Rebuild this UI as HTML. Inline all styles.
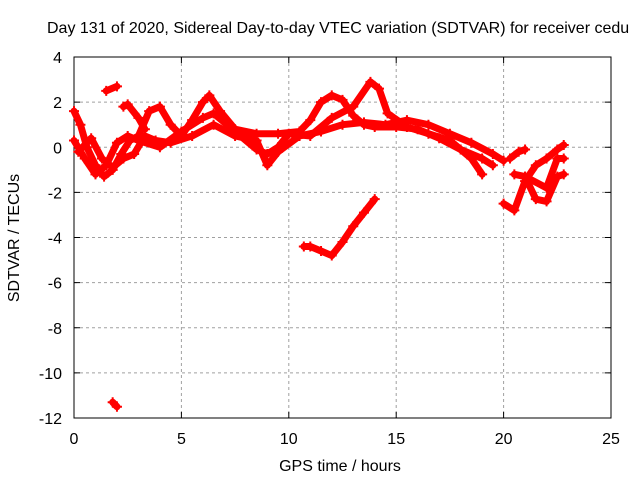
<!DOCTYPE html>
<html><head><meta charset="utf-8"><style>
body{margin:0;background:#fff}
svg text{font-family:"Liberation Sans",Arial,sans-serif;font-size:16px;fill:#000}
</style></head><body>
<svg id="chart" width="640" height="480">
<text x="47" y="33">Day 131 of 2020, Sidereal Day-to-day VTEC variation (SDTVAR) for receiver cedu</text>
<g id="grid"></g><g id="axes"></g><g id="series"></g>
<text x="340" y="471" text-anchor="middle">GPS time / hours</text>
<text transform="translate(19,238) rotate(-90)" text-anchor="middle">SDTVAR / TECUs</text>
</svg>
<script>
const xTicks=[0,5,10,15,20,25];
const yTicks=[4,2,0,-2,-4,-6,-8,-10,-12];
const trackA=[[0,1.6],[0.3,1],[0.6,0],[1,-0.8],[1.4,-1.3],[1.8,-1.0],[2.2,-0.3],[2.6,0.3],[3,0.5],[3.5,1.6],[4,1.8],[4.5,1],[5,0.5],[5.5,1.2],[6,2],[6.3,2.3],[6.8,1.6],[7.5,0.8],[8.5,0.6],[9.5,0.6],[10.5,0.7],[11,1.2],[11.5,2],[12,2.3],[12.5,2.1],[13,1.4],[13.5,1],[14,0.9],[15,0.9],[16,0.8],[17,0.4],[18,-0.1],[19,-0.5],[19.5,-0.8]];
const trackB=[[0,0.3],[0.5,-0.5],[1,-1.2],[1.5,-0.8],[2,0.2],[2.5,0.5],[3,0.3],[4,0],[5,0.7],[6,1.3],[6.5,1.5],[7.5,0.7],[8.5,-0.1],[9,-0.3],[9.5,0],[10,0.6],[11,0.5],[12,1.3],[13,1.8],[13.8,2.9],[14.2,2.6],[14.6,1.5],[15.5,0.9],[16.5,0.6],[17.5,0.3],[18.5,-0.5],[19,-1.2]];
const trackC=[[0.2,-0.2],[0.8,0.4],[1.3,-0.5],[1.8,-0.9],[2.3,-0.5],[2.8,-0.3],[3.3,0.5],[3.8,0.3],[4.5,0.2],[5.5,0.5],[6.5,1.0],[7.5,0.5],[8.5,0.3],[9,-0.8],[9.5,-0.2],[10.5,0.5],[11.5,0.7],[12.5,1.0],[13.5,1.1],[14.5,1.0],[15.5,1.2],[16.5,1.0],[17.5,0.6],[18.5,0.2],[19.5,-0.3],[20,-0.6]];
const trackD=[[20,-2.5],[20.5,-2.8],[21,-1.5],[21.5,-0.8],[22,-0.5],[22.5,-0.1],[22.8,0.1]];
const trackE=[[20.5,-1.2],[21,-1.3],[21.5,-2.3],[22,-2.4],[22.5,-1.3],[22.8,-1.2]];
const trackF=[[20.3,-0.5],[20.7,-0.2],[21,-0.1]];
const trackG=[[21,-1.3],[22,-1.8],[22.5,-0.5],[22.8,-0.5]];
const trackH=[[10.7,-4.4],[11,-4.4],[11.5,-4.6],[12,-4.8],[12.5,-4.2],[13,-3.5],[13.5,-2.9],[14,-2.3]];
const trackI=[[1.5,2.5],[2,2.7]];
const trackJ=[[1.8,-11.3],[2,-11.5]];
const trackK=[[2.3,1.8],[2.5,1.9],[3,1.3],[3.3,0.8]];
const tracks=[trackA,trackB,trackC,trackD,trackE,trackF,trackG,trackH,trackI,trackJ,trackK];
const X0=74,X1=611,Y0=418,Y1=57;
const sx=v=>X0+(v-0)/25*(X1-X0);
const sy=v=>Y0-(v+12)/16*(Y0-Y1);
const NS='http://www.w3.org/2000/svg';
const grid=document.getElementById('grid'),axes=document.getElementById('axes'),ser=document.getElementById('series');
function mk(tag,a,p){const e=document.createElementNS(NS,tag);for(const k in a)e.setAttribute(k,a[k]);p.appendChild(e);return e;}
xTicks.forEach(t=>{const x=sx(t);
 if(t>0&&t<25){const g=mk('line',{x1:x,x2:x,y1:Y1,y2:Y0,stroke:'#a0a0a0','stroke-dasharray':'3,3'},grid);
 
 }
 const l=mk('text',{x:x,y:Y0+26,'text-anchor':'middle'},axes);l.textContent=t;
 
 
 mk('line',{x1:x,x2:x,y1:Y0,y2:Y0-6,stroke:'#000'},axes);mk('line',{x1:x,x2:x,y1:Y1,y2:Y1+6,stroke:'#000'},axes);});
yTicks.forEach(t=>{const y=sy(t);
 if(t>-12&&t<4){const g=mk('line',{x1:X0,x2:X1,y1:y,y2:y,stroke:'#a0a0a0','stroke-dasharray':'3,3'},grid);
 
 }
 const l=mk('text',{x:X0-12,y:y+6,'text-anchor':'end'},axes);l.textContent=t;
 
 
 mk('line',{x1:X0,x2:X0+6,y1:y,y2:y,stroke:'#000'},axes);mk('line',{x1:X1,x2:X1-6,y1:y,y2:y,stroke:'#000'},axes);});
const fr=mk('rect',{x:X0,y:Y1,width:X1-X0,height:Y0-Y1,fill:'none',stroke:'#000'},axes);


tracks.forEach(tr=>{
 const p=mk('polyline',{points:tr.map(d=>sx(d[0])+','+sy(d[1])).join(' '),fill:'none',stroke:'#ff0000','stroke-width':7,'stroke-linejoin':'round','stroke-linecap':'round'},ser);
 
 
 tr.forEach(d=>{const x=sx(d[0]),y=sy(d[1]);
  const m=mk('path',{d:`M${x-5},${y}H${x+5}M${x},${y-5}V${y+5}`,stroke:'#ff0000','stroke-width':2},ser);
  
  });
});
</script>
</body></html>
